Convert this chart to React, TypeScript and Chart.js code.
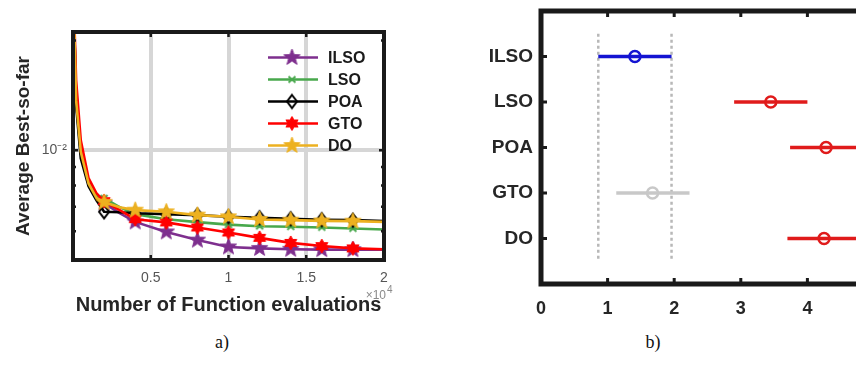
import React, { useEffect, useRef } from 'react';
import { Chart, registerables } from 'chart.js';

Chart.register(...registerables);

// ---------- a) convergence curves ----------
const EVALS = [0, 0.02, 0.05, 0.1, 0.15, 0.2, 0.3, 0.4, 0.6, 0.8, 1.0, 1.2, 1.4, 1.6, 1.8, 2.0];
const MARKER_EVALS = [0.2, 0.4, 0.6, 0.8, 1.0, 1.2, 1.4, 1.6, 1.8];
const X_TICKS = [0.5, 1, 1.5, 2];
const Y_TICKS = [0.01];
const ILSO_CURVE = [0.03, 0.0137, 0.01, 0.00817, 0.00748, 0.00716, 0.00672, 0.00636, 0.00597, 0.00567, 0.00543, 0.00538, 0.00535, 0.00534, 0.00534, 0.00534];
const LSO_CURVE = [0.03, 0.0137, 0.00981, 0.00812, 0.00748, 0.00739, 0.00698, 0.00668, 0.00647, 0.00635, 0.00625, 0.00619, 0.00617, 0.00614, 0.0061, 0.00606];
const POA_CURVE = [0.03, 0.01328, 0.00951, 0.00797, 0.0073, 0.00678, 0.00676, 0.00672, 0.00668, 0.00664, 0.00657, 0.00653, 0.00649, 0.00645, 0.00643, 0.00639];
const GTO_CURVE = [0.03, 0.01555, 0.01065, 0.00838, 0.00763, 0.00725, 0.00685, 0.00647, 0.00634, 0.00614, 0.00595, 0.00575, 0.00557, 0.00546, 0.00538, 0.00535];
const DO_CURVE = [0.03, 0.0137, 0.0099, 0.0081, 0.0074, 0.0072, 0.00698, 0.00685, 0.00678, 0.00664, 0.00657, 0.00646, 0.00643, 0.0064, 0.00639, 0.00636];
const SERIES_NAMES = ['ILSO', 'LSO', 'POA', 'GTO', 'DO'];
const SERIES_COLORS = ['#7E2F8E', '#48a84c', '#000000', '#ff0000', '#EDB120'];

// ---------- b) multiple comparison ----------
const GROUPS = ['ILSO', 'LSO', 'POA', 'GTO', 'DO'];
const GROUP_MEANS = [1.41, 3.45, 4.28, 1.675, 4.25];
const GROUP_LOWER = [0.86, 2.9, 3.74, 1.13, 3.7];
const GROUP_UPPER = [1.96, 4.0, 4.82, 2.23, 4.8];
const GROUP_COLORS = ['#1414d2', '#e01b1b', '#e01b1b', '#c8c8c8', '#e01b1b'];
const RANK_TICKS = [0, 1, 2, 3, 4, 5];

const FONT = "'Liberation Sans', Arial, sans-serif";

function makeCanvas(size: number) {
  const c = document.createElement('canvas');
  c.width = size;
  c.height = size;
  const ctx = c.getContext('2d')!;
  ctx.translate(size / 2, size / 2);
  return { c, ctx };
}

function starMarker(color: string, points: number, outer: number, inner: number) {
  const size = Math.ceil(outer * 2 + 4);
  const { c, ctx } = makeCanvas(size);
  ctx.beginPath();
  for (let i = 0; i < points * 2; i++) {
    const r = i % 2 === 0 ? outer : inner;
    const a = -Math.PI / 2 + (i * Math.PI) / points;
    ctx.lineTo(r * Math.cos(a), r * Math.sin(a));
  }
  ctx.closePath();
  ctx.fillStyle = color;
  ctx.fill();
  ctx.strokeStyle = color;
  ctx.lineWidth = 1;
  ctx.stroke();
  return c;
}

function diamondMarker(color: string) {
  const { c, ctx } = makeCanvas(18);
  ctx.beginPath();
  ctx.moveTo(0, -6.5);
  ctx.lineTo(5, 0);
  ctx.lineTo(0, 6.5);
  ctx.lineTo(-5, 0);
  ctx.closePath();
  ctx.strokeStyle = color;
  ctx.lineWidth = 2;
  ctx.stroke();
  return c;
}

function crossMarker(color: string) {
  const { c, ctx } = makeCanvas(12);
  ctx.strokeStyle = color;
  ctx.lineWidth = 2;
  ctx.beginPath();
  ctx.moveTo(-3.5, -3);
  ctx.lineTo(3.5, 3);
  ctx.moveTo(3.5, -3);
  ctx.lineTo(-3.5, 3);
  ctx.stroke();
  return c;
}

function noPad(s: any) {
  s.paddingLeft = 0;
  s.paddingRight = 0;
  s.paddingTop = 0;
  s.paddingBottom = 0;
}

export default function App() {
  const leftRef = useRef<HTMLCanvasElement>(null);
  const rightRef = useRef<HTMLCanvasElement>(null);

  useEffect(() => {
    const markers = [
      starMarker(SERIES_COLORS[0], 5, 8.5, 3.5),
      crossMarker(SERIES_COLORS[1]),
      diamondMarker(SERIES_COLORS[2]),
      starMarker(SERIES_COLORS[3], 6, 7, 4),
      starMarker(SERIES_COLORS[4], 5, 8.5, 3.5),
    ];
    const curves = [ILSO_CURVE, LSO_CURVE, POA_CURVE, GTO_CURVE, DO_CURVE];

    const leftFrame = {
      id: 'leftFrame',
      beforeDraw(chart: any) {
        const { ctx, chartArea } = chart;
        ctx.save();
        ctx.fillStyle = '#8a8a8a';
        ctx.font = `12px ${FONT}`;
        ctx.textAlign = 'right';
        ctx.textBaseline = 'alphabetic';
        ctx.fillText('\u00d710', chartArea.right + 2, 299);
        ctx.font = `10px ${FONT}`;
        ctx.textAlign = 'left';
        ctx.fillText('4', chartArea.right + 3, 293);
        ctx.restore();
      },
      afterDraw(chart: any) {
        const { ctx, chartArea, scales } = chart;
        const { left, right, top, bottom } = chartArea;
        ctx.save();
        // legend
        SERIES_NAMES.forEach((name, i) => {
          const y = top + 25.5 + i * 22;
          ctx.strokeStyle = SERIES_COLORS[i];
          ctx.lineWidth = 2.5;
          ctx.beginPath();
          ctx.moveTo(right - 116, y);
          ctx.lineTo(right - 66, y);
          ctx.stroke();
          const m = markers[i];
          ctx.drawImage(m, right - 92 - m.width / 2, y - m.height / 2);
          ctx.fillStyle = '#1a1a1a';
          ctx.font = `bold 16px ${FONT}`;
          ctx.textAlign = 'left';
          ctx.textBaseline = 'middle';
          ctx.fillText(name, right - 56, y + 1);
        });
        // inward ticks
        ctx.strokeStyle = '#1a1a1a';
        ctx.lineWidth = 2.5;
        ctx.beginPath();
        X_TICKS.forEach((v) => {
          const x = scales.x.getPixelForValue(v);
          ctx.moveTo(x, top);
          ctx.lineTo(x, top + 5);
          ctx.moveTo(x, bottom);
          ctx.lineTo(x, bottom - 5);
        });
        [0.006, 0.007, 0.008, 0.009, 0.01, 0.02].forEach((v) => {
          const y = scales.y.getPixelForValue(v);
          const len = v === 0.01 ? 5 : 3;
          ctx.moveTo(left, y);
          ctx.lineTo(left + len, y);
          ctx.moveTo(right, y);
          ctx.lineTo(right - len, y);
        });
        ctx.stroke();
        // frame
        ctx.lineWidth = 4;
        ctx.strokeRect(left, top, right - left, bottom - top);
        ctx.restore();
      },
    };

    const left = new Chart(leftRef.current!, {
      type: 'line',
      data: {
        datasets: SERIES_NAMES.map((name, i) => ({
          label: name,
          data: EVALS.map((x, k) => ({ x, y: curves[i][k] })),
          borderColor: SERIES_COLORS[i],
          backgroundColor: SERIES_COLORS[i],
          borderWidth: 2.6,
          tension: 0,
          order: SERIES_NAMES.length - i,
          pointStyle: markers[i] as any,
          pointRadius: (ctx: any) => (ctx.raw && MARKER_EVALS.includes(ctx.raw.x) ? 5 : 0),
          pointHoverRadius: 0,
        })),
      },
      options: {
        animation: false,
        responsive: false,
        devicePixelRatio: 1,
        events: [],
        layout: { padding: { left: 0, right: 16, top: 32, bottom: 0 } },
        plugins: { legend: { display: false }, tooltip: { enabled: false } },
        scales: {
          x: {
            type: 'linear',
            min: 0,
            max: 2,
            afterBuildTicks: (s: any) => {
              s.ticks = X_TICKS.map((value) => ({ value }));
            },
            afterFit: (s: any) => {
              s.height = 60;
              noPad(s);
            },
            grid: { color: '#d6d6d6', lineWidth: 4, drawTicks: false },
            border: { display: false },
            ticks: {
              color: '#555555',
              font: { family: FONT, size: 14 },
              padding: 10,
              maxRotation: 0,
              callback: (v: any) => String(v),
            },
            title: {
              display: true,
              text: 'Number of Function evaluations',
              color: '#262626',
              font: { family: FONT, size: 20, weight: 'bold' },
              padding: { top: 0, bottom: 3 },
            },
          },
          y: {
            type: 'logarithmic',
            min: 0.005,
            max: 0.0211,
            afterBuildTicks: (s: any) => {
              s.ticks = Y_TICKS.map((value) => ({ value }));
            },
            afterFit: (s: any) => {
              s.width = 73;
              noPad(s);
            },
            grid: { color: '#d6d6d6', lineWidth: 4, drawTicks: false },
            border: { display: false },
            ticks: {
              color: '#555555',
              font: { family: FONT, size: 14 },
              padding: 6,
              callback: (v: any) => (v === 0.01 ? '10\u207b\u00b2' : ''),
            },
            title: {
              display: true,
              text: 'Average Best-so-far',
              color: '#262626',
              font: { family: FONT, size: 19, weight: 'bold' },
              padding: { top: 12, bottom: 0 },
            },
          },
        },
      } as any,
      plugins: [leftFrame],
    });

    const rightFrame = {
      id: 'rightFrame',
      afterDraw(chart: any) {
        const { ctx, chartArea, scales } = chart;
        const { left, right, top, bottom } = chartArea;
        ctx.save();
        ctx.strokeStyle = '#1a1a1a';
        ctx.lineWidth = 3;
        ctx.beginPath();
        RANK_TICKS.forEach((v) => {
          const x = scales.x.getPixelForValue(v);
          ctx.moveTo(x, top);
          ctx.lineTo(x, top + 6);
          ctx.moveTo(x, bottom);
          ctx.lineTo(x, bottom - 6);
        });
        GROUPS.forEach((_, i) => {
          const y = scales.y.getPixelForValue(i + 1);
          ctx.moveTo(left, y);
          ctx.lineTo(left + 6, y);
        });
        ctx.stroke();
        ctx.lineWidth = 5;
        ctx.strokeRect(left, top, right - left, bottom - top);
        ctx.restore();
      },
    };

    const refLines = [GROUP_LOWER[0], GROUP_UPPER[0]].map((x) => ({
      data: [
        { x, y: 0.5 },
        { x, y: 5.5 },
      ],
      showLine: true,
      borderColor: '#b8b8b8',
      borderWidth: 2.5,
      borderDash: [3, 3],
      pointRadius: 0,
      order: 10,
    }));
    const intervals = GROUPS.map((g, i) => ({
      label: g,
      data: [
        { x: GROUP_LOWER[i], y: i + 1 },
        { x: GROUP_UPPER[i], y: i + 1 },
      ],
      showLine: true,
      borderColor: GROUP_COLORS[i],
      borderWidth: 3.5,
      pointRadius: 0,
      order: 5,
    }));
    const means = {
      data: GROUP_MEANS.map((x, i) => ({ x, y: i + 1 })),
      showLine: false,
      pointStyle: 'circle',
      pointRadius: 5.5,
      pointBorderWidth: 2.5,
      pointBackgroundColor: 'rgba(0,0,0,0)',
      pointBorderColor: GROUP_COLORS,
      order: 1,
    };

    const right = new Chart(rightRef.current!, {
      type: 'scatter',
      data: { datasets: [...refLines, ...intervals, means] as any },
      options: {
        animation: false,
        responsive: false,
        devicePixelRatio: 1,
        events: [],
        layout: { padding: { left: 0, right: 16, top: 11, bottom: 0 } },
        plugins: { legend: { display: false }, tooltip: { enabled: false } },
        scales: {
          x: {
            type: 'linear',
            min: 0,
            max: 5,
            afterBuildTicks: (s: any) => {
              s.ticks = RANK_TICKS.map((value) => ({ value }));
            },
            afterFit: (s: any) => {
              s.height = 46;
              noPad(s);
            },
            grid: { display: false, drawTicks: false },
            border: { display: false },
            ticks: { color: '#262626', font: { family: FONT, size: 18, weight: 'bold' }, padding: 14, maxRotation: 0 },
          },
          y: {
            type: 'linear',
            min: 0,
            max: 6,
            reverse: true,
            afterBuildTicks: (s: any) => {
              s.ticks = GROUPS.map((_, i) => ({ value: i + 1 }));
            },
            afterFit: (s: any) => {
              s.width = 101;
              noPad(s);
            },
            grid: { display: false, drawTicks: false },
            border: { display: false },
            ticks: {
              color: '#262626',
              font: { family: FONT, size: 19, weight: 'bold' },
              padding: 8,
              callback: (v: any) => GROUPS[v - 1] ?? '',
            },
          },
        },
      } as any,
      plugins: [rightFrame],
    });

    return () => {
      left.destroy();
      right.destroy();
    };
  }, []);

  const caption = (x: number): React.CSSProperties => ({
    position: 'absolute',
    left: x,
    top: 342,
    transform: 'translate(-50%, -50%)',
    fontFamily: "'Liberation Serif', 'Times New Roman', serif",
    fontSize: 18,
    color: '#111',
    whiteSpace: 'nowrap',
  });

  return (
    <div style={{ position: 'absolute', left: 0, top: 0, width: 856, height: 369, overflow: 'hidden', background: '#fff' }}>
      <canvas ref={leftRef} width={400} height={320} style={{ position: 'absolute', left: 0, top: 0 }} />
      <canvas ref={rightRef} width={450} height={330} style={{ position: 'absolute', left: 440, top: 0 }} />
      <div style={caption(222)}>a)</div>
      <div style={caption(653)}>b)</div>
    </div>
  );
}
